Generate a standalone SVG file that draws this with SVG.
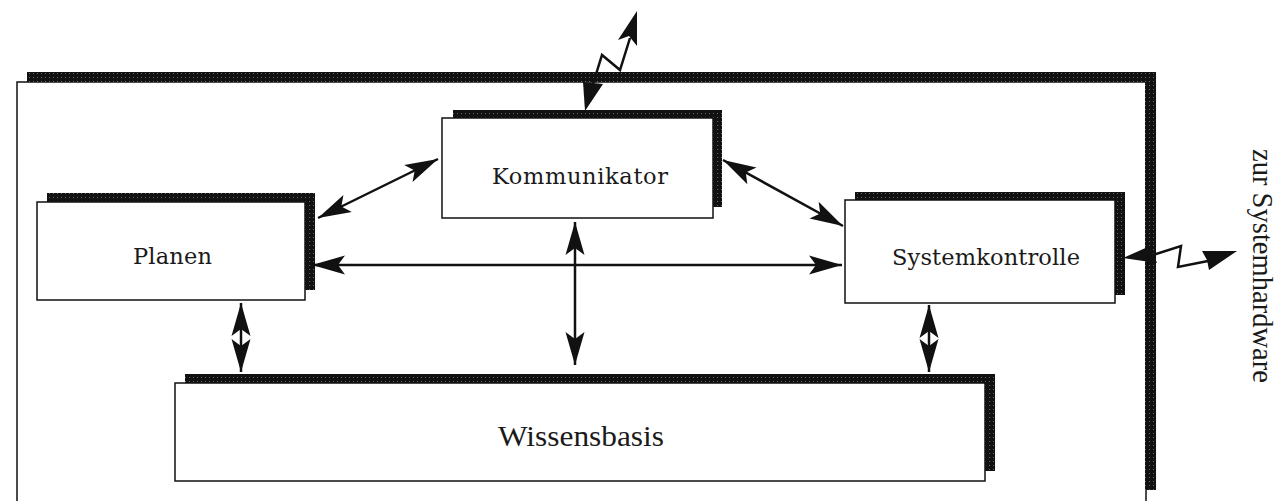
<svg xmlns="http://www.w3.org/2000/svg" width="1281" height="501" viewBox="0 0 1281 501">
<style>
.box{fill:#fff;stroke:#111;stroke-width:1.5}
.frame{fill:none;stroke:#111;stroke-width:1.5}
.shadow{fill:url(#halftone)}
.lbl{font-family:"DejaVu Serif","Liberation Serif",serif;font-size:22.5px;fill:#1a1a1a;text-anchor:middle}
.lbl2{font-family:"Liberation Serif","Times New Roman",serif;font-size:29px;fill:#1a1a1a;text-anchor:middle}
.conn{stroke:#111;stroke-width:2.5;fill:none}
.bolt{stroke:#111;stroke-width:2.5;fill:none;stroke-linejoin:miter}
.head{fill:#111}
</style>
<defs>
<pattern id="halftone" width="4" height="4" patternUnits="userSpaceOnUse">
<rect width="4" height="4" fill="#111"/>
<rect x="1" y="1" width="1" height="1" fill="#666"/>
</pattern>
<marker id="ah" viewBox="-36 -11 38 22" refX="0" refY="0" markerWidth="38" markerHeight="22" markerUnits="userSpaceOnUse" orient="auto-start-reverse">
<path d="M0,0 L-33,-9.5 L-26,0 L-33,9.5 Z" fill="#111"/>
</marker>
</defs>

<g id="frame">
<rect class="frame" x="17" y="82" width="1129" height="440"/>
<rect class="shadow" x="27" y="72" width="1129" height="10"/>
<rect class="shadow" x="1145" y="72" width="11" height="418"/>
</g>

<g id="kommunikator">
<rect class="shadow" x="453" y="110" width="269" height="8"/>
<rect class="shadow" x="713" y="110" width="9" height="97"/>
<rect class="box" x="442" y="118" width="271" height="100"/>
<text class="lbl" x="580" y="184" textLength="176" lengthAdjust="spacing">Kommunikator</text>
</g>

<g id="planen">
<rect class="shadow" x="47" y="193" width="268" height="9"/>
<rect class="shadow" x="305" y="193" width="10" height="97"/>
<rect class="box" x="37" y="202" width="268" height="98"/>
<text class="lbl" x="172.5" y="264" textLength="79" lengthAdjust="spacing">Planen</text>
</g>

<g id="systemkontrolle">
<rect class="shadow" x="855" y="192" width="270" height="8"/>
<rect class="shadow" x="1115" y="192" width="10" height="103"/>
<rect class="box" x="845" y="200" width="270" height="103"/>
<text class="lbl" x="986" y="265" textLength="188" lengthAdjust="spacing">Systemkontrolle</text>
</g>

<g id="wissensbasis">
<rect class="shadow" x="185" y="374" width="810" height="9"/>
<rect class="shadow" x="985" y="374" width="10" height="97"/>
<rect class="box" x="175" y="383" width="810" height="98"/>
<text class="lbl2" x="581" y="446" textLength="166" lengthAdjust="spacingAndGlyphs">Wissensbasis</text>
</g>

<g id="connectors">
<line class="conn" x1="318" y1="218" x2="438" y2="159" marker-start="url(#ah)" marker-end="url(#ah)"/>
<line class="conn" x1="723" y1="160" x2="843" y2="226" marker-start="url(#ah)" marker-end="url(#ah)"/>
<line class="conn" x1="312" y1="265" x2="842" y2="265" marker-start="url(#ah)" marker-end="url(#ah)"/>
<line class="conn" x1="575" y1="222" x2="575" y2="365" marker-start="url(#ah)" marker-end="url(#ah)"/>
<line class="conn" x1="241" y1="303" x2="241" y2="372" marker-start="url(#ah)" marker-end="url(#ah)"/>
<line class="conn" x1="929" y1="305" x2="929" y2="372" marker-start="url(#ah)" marker-end="url(#ah)"/>
<polygon class="head" points="585,111 583,82 603,84"/>
<polyline class="bolt" points="593,84 602,55 620,70 630,38"/>
<polygon class="head" points="637,11 618,40 629,36 637,46"/>
<polygon class="head" points="1123,258 1150,246 1157,263"/>
<polyline class="bolt" points="1153,255 1181,246 1178,267 1208,261"/>
<polygon class="head" points="1237,251 1202,251 1207,260 1209,270"/>
</g>

<g id="label-hardware">
<text class="lbl2" transform="translate(1253,266) rotate(90)" font-size="27" textLength="234" lengthAdjust="spacingAndGlyphs">zur Systemhardware</text>
</g>
</svg>
